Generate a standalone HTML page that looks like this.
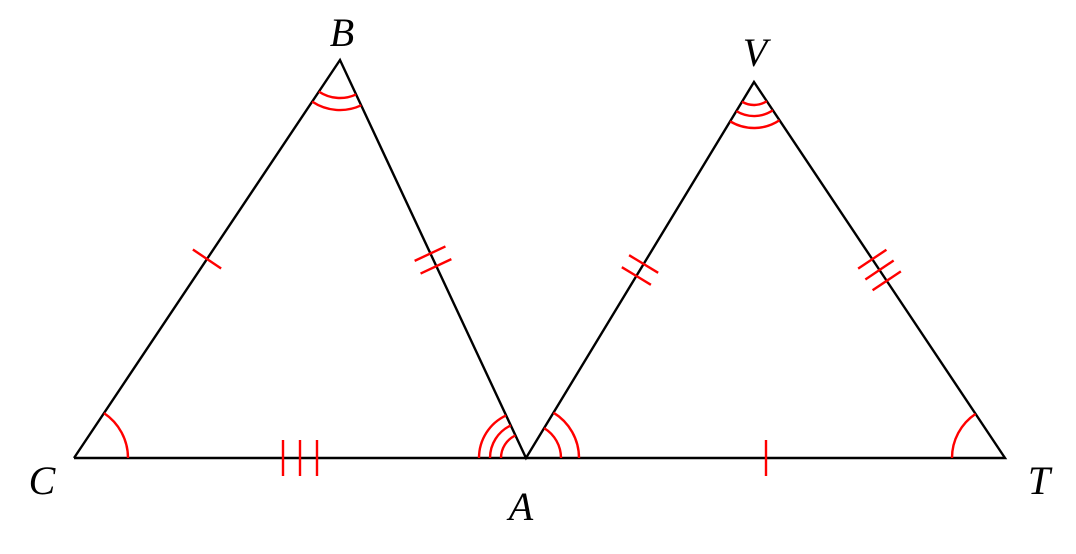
<!DOCTYPE html>
<html><head><style>html,body{margin:0;padding:0;background:#fff}svg{display:block}</style></head>
<body>
<svg width="1076" height="554" viewBox="0 0 1076 554" xmlns="http://www.w3.org/2000/svg">
<g fill="none" stroke="#000" stroke-width="2.4" stroke-linejoin="miter">
<polyline points="74,458 340,60 526,458 754,82 1005,458 74,458"/>
</g>
<g fill="none" stroke="#f00" stroke-width="2.4">
<path d="M104,413.1 A54,54 0 0 1 128,458"/>
<path d="M318.9,91.6 A38,38 0 0 0 356.1,94.4"/>
<path d="M312.2,101.6 A50,50 0 0 0 361.2,105.3"/>
<path d="M515.4,435.4 A25,25 0 0 0 501,458"/>
<path d="M510.8,425.4 A36,36 0 0 0 490,458"/>
<path d="M506.1,415.4 A47,47 0 0 0 479,458"/>
<path d="M544.1,428.1 A35,35 0 0 1 561,458"/>
<path d="M553.5,412.7 A53,53 0 0 1 579,458"/>
<path d="M742.1,101.7 A23,23 0 0 0 766.8,101.1"/>
<path d="M736.4,111.1 A34,34 0 0 0 772.9,110.3"/>
<path d="M730.1,121.3 A46,46 0 0 0 779.5,120.3"/>
<path d="M975.6,413.9 A53,53 0 0 0 952,458"/>
<g transform="translate(207,259) rotate(-56.2)"><line x1="0" y1="-17" x2="0" y2="17"/></g>
<g transform="translate(433,260) rotate(64.95)"><line x1="-7" y1="-17" x2="-7" y2="17"/><line x1="7" y1="-17" x2="7" y2="17"/></g>
<g transform="translate(640,270) rotate(-58.77)"><line x1="-7" y1="-17" x2="-7" y2="17"/><line x1="7" y1="-17" x2="7" y2="17"/></g>
<g transform="translate(879.5,270) rotate(56.27)"><line x1="-13" y1="-17" x2="-13" y2="17"/><line x1="0" y1="-17" x2="0" y2="17"/><line x1="13" y1="-17" x2="13" y2="17"/></g>
<line x1="283" y1="440" x2="283" y2="476"/><line x1="300" y1="440" x2="300" y2="476"/><line x1="317" y1="440" x2="317" y2="476"/>
<line x1="766" y1="440" x2="766" y2="476"/>
</g>
<g font-family="'Liberation Serif',serif" font-style="italic" font-size="40" fill="#000" text-anchor="middle">
<text x="342" y="46">B</text>
<text x="755" y="66">V</text>
<text x="42" y="494">C</text>
<text x="521" y="520">A</text>
<text x="1039" y="494">T</text>
</g>
</svg>
</body></html>
